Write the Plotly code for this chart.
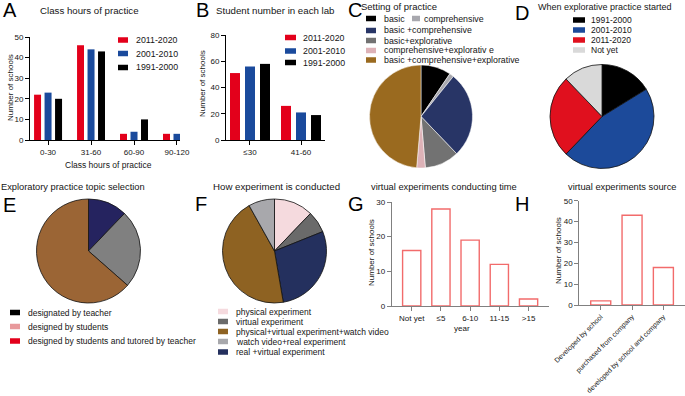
import plotly.graph_objects as go

# ---------------- data ----------------
A_cats = ["0-30", "31-60", "60-90", "90-120"]
A_2011 = [22, 46, 3, 3]
A_2001 = [23, 44, 4, 3]
A_1991 = [20, 43, 10, 1]

B_cats = ["≤30", "41-60"]
B_2011 = [51, 26]
B_2001 = [56, 21]
B_1991 = [58, 19]

series_names = ["2011-2020", "2001-2010", "1991-2000"]

C_labels = ["basic", "comprehensive", "basic +comprehensive", "basic+explorative",
            "comprehensive+explorativ e", "basic +comprehensive+explorative"]
C_values = [7, 1, 20, 8, 2, 36]

D_labels = ["1991-2000", "2001-2010", "2011-2020", "Not yet"]
D_values = [12, 34, 19, 9]

E_labels = ["designated by teacher", "designed by students",
            "designed by students and tutored by teacher"]
E_values = [9, 18, 47]

F_labels = ["physical experiment", "virtual experiment", "real +virtual experiment",
            "physical+virtual experiment+watch video", "watch video+real experiment"]
F_values = [9, 5, 21, 33, 6]
F_legend_order = [0, 1, 3, 4, 2]

G_cats = ["Not yet", "≤5", "6-10", "11-15", ">15"]
G_values = [16, 28, 19, 12, 2]

H_cats = ["Developed by school", "purchased from company", "developed by school and company"]
H_values = [2, 43, 18]

# ---------------- styles ----------------
W, H = 685, 396
FONT = "Arial, Liberation Sans, sans-serif"
TXT = "#151515"
bar_colors = ["#e3001b", "#1a4a9c", "#000000"]
C_colors = ["#000000", "#a8a8ae", "#283566", "#727272", "#ddb2b7", "#9a6a1f"]
D_colors = ["#000000", "#1c4a9a", "#e0101e", "#d9d9d9"]
E_slice_colors = ["#25235f", "#808080", "#9b6535"]
E_legend_colors = ["#000000", "#e8999c", "#e3001b"]
F_colors = ["#f5dade", "#6a6a6a", "#24305e", "#8e6222", "#a8a8ac"]
outline_red = "#f26b6b"


def fx(x):
    return x / W


def fy(y):
    return 1 - y / H


fig = go.Figure()

# ---------------- A bars ----------------
A_w = 7 / 43
A_pitch = 10.5 / 43
for i, (vals, name) in enumerate(zip([A_2011, A_2001, A_1991], series_names)):
    fig.add_trace(go.Bar(x=A_cats, y=vals, name=name, marker=dict(color=bar_colors[i], line=dict(width=0)),
                         width=A_w, offset=(i - 1) * A_pitch - A_w / 2,
                         xaxis="x", yaxis="y", showlegend=False))

# ---------------- B bars ----------------
B_w = 10 / 51
B_pitch = 15 / 51
for i, (vals, name) in enumerate(zip([B_2011, B_2001, B_1991], series_names)):
    fig.add_trace(go.Bar(x=B_cats, y=vals, name=name, marker=dict(color=bar_colors[i], line=dict(width=0)),
                         width=B_w, offset=(i - 1) * B_pitch - B_w / 2,
                         xaxis="x2", yaxis="y2", showlegend=False))

# ---------------- G bars ----------------
G_w = 18.3 / 29.3
fig.add_trace(go.Bar(x=G_cats, y=G_values, marker=dict(color="white", line=dict(color=outline_red, width=1.4)),
                     width=G_w, offset=-G_w / 2, xaxis="x3", yaxis="y3", showlegend=False))

# ---------------- H bars ----------------
H_w = 20 / 31.3
fig.add_trace(go.Bar(x=H_cats, y=H_values, marker=dict(color="white", line=dict(color=outline_red, width=1.4)),
                     width=H_w, offset=-H_w / 2, xaxis="x4", yaxis="y4", showlegend=False))


# ---------------- pies ----------------
def pie_domain(cx, cy, r):
    return dict(x=[fx(cx - r), fx(cx + r)], y=[fy(cy + r), fy(cy - r)])


def add_pie(labels, values, colors, cx, cy, r, line_color, line_w):
    fig.add_trace(go.Pie(labels=labels, values=values, sort=False, direction="clockwise", rotation=0,
                         marker=dict(colors=colors, line=dict(color=line_color, width=line_w)),
                         textinfo="none", showlegend=False, domain=pie_domain(cx, cy, r)))


add_pie(C_labels, C_values, C_colors, 421, 116.5, 51.5, "#ffffff", 0.5)
add_pie(D_labels, D_values, D_colors, 602, 116.5, 52, "#111111", 0.8)
add_pie(E_labels, E_values, E_slice_colors, 88.5, 251, 52, "#111111", 0.8)
add_pie(F_labels, F_values, F_colors, 274.5, 251, 52, "#111111", 0.8)

# ---------------- axes ----------------
tickfont = dict(family=FONT, size=8, color=TXT)


def xax(x0, x1, rng, anchor, color="#000"):
    return dict(domain=[fx(x0), fx(x1)], range=rng, anchor=anchor, type="category",
                showline=True, linecolor=color, linewidth=1, ticks="outside", ticklen=4,
                tickcolor=color, tickwidth=1, showgrid=False, zeroline=False, automargin=False,
                tickfont=tickfont, fixedrange=True)


def yax(y0, y1, rng, dtick, anchor, color="#000"):
    return dict(domain=[fy(y0), fy(y1)], range=rng, anchor=anchor, showline=True, linecolor=color,
                linewidth=1, ticks="outside", ticklen=4, tickcolor=color, tickwidth=1, showgrid=False,
                zeroline=False, dtick=dtick, tickfont=tickfont, fixedrange=True, automargin=False)


xa = xax(30, 180, [-0.42, 3.07], "y")
ya = yax(140, 37, [0, 50], 10, "x")
xb = xax(226, 325, [-0.47, 1.47], "y2")
yb = yax(140, 35, [0, 80], 20, "x2")
xg = xax(391.7, 549, [-0.685, 4.70], "y3", "#808080")
yg = yax(306, 202, [0, 30], 10, "x3", "#808080")
xh = xax(579.3, 685, [-0.684, 2.69], "y4", "#808080")
xh["tickangle"] = -45
xh["tickfont"] = dict(family=FONT, size=7, color=TXT)
yh = yax(305, 200.7, [0, 50], 10, "x4", "#808080")

fig.update_layout(
    template="none",
    width=W, height=H, autosize=False,
    margin=dict(l=0, r=0, t=0, b=0, pad=0),
    paper_bgcolor="white", plot_bgcolor="rgba(0,0,0,0)",
    barmode="overlay", showlegend=False, hovermode=False,
    font=dict(family=FONT, color=TXT),
    xaxis=xa, yaxis=ya, xaxis2=xb, yaxis2=yb, xaxis3=xg, yaxis3=yg, xaxis4=xh, yaxis4=yh,
)

annotations = []
shapes = []


def text(t, x, y, size, anchor="left", angle=0, color=TXT):
    annotations.append(dict(text=t, x=fx(x), y=fy(y), xref="paper", yref="paper",
                            xanchor=anchor, yanchor="middle", showarrow=False, textangle=angle,
                            borderpad=0, font=dict(family=FONT, size=size, color=color)))


def legend(labels, colors, x_sw, x_txt, ys, size, sw_w=10, sw_h=5.5):
    for lab, col, y in zip(labels, colors, ys):
        shapes.append(dict(type="rect", xref="paper", yref="paper",
                           x0=fx(x_sw), x1=fx(x_sw + sw_w), y0=fy(y + sw_h / 2), y1=fy(y - sw_h / 2),
                           fillcolor=col, line=dict(width=0)))
        text(lab, x_txt, y, size)


# panel letters
for letter, x, y in [("A", 2, 10), ("B", 195, 10), ("C", 347, 10), ("D", 514, 12.5),
                     ("E", 2, 205), ("F", 194, 204), ("G", 347, 204), ("H", 514, 204)]:
    text(letter, x, y, 20, color="#000")

# panel titles
text("Class hours of practice", 39, 10.5, 9.7)
text("Student number in each lab", 215, 10.5, 9.7)
text("Setting of practice", 360, 6.5, 9.5)
text("When explorative practice started", 537, 6.5, 9)
text("Exploratory practice topic selection", 0, 186.5, 9.3)
text("How experiment is conducted", 212, 186.5, 9.7)
text("virtual experiments conducting time", 370, 186.5, 9.3)
text("virtual experiments source", 567, 186.5, 9.3)

# axis titles
text("Class hours of practice", 108.5, 165, 8.5, anchor="center")
text("Number of schools", 10, 88, 8, anchor="center", angle=-90)
text("Number of schools", 202, 84, 8, anchor="center", angle=-90)
text("Number of schools", 372, 253, 8, anchor="center", angle=-90)
text("Number of schools", 558, 251, 8, anchor="center", angle=-90)
text("year", 461.5, 328, 8, anchor="center")

# legends
legend(series_names, bar_colors, 118, 135, [40, 53.5, 67.5], 8.8)
legend(series_names, bar_colors, 285, 302, [37.5, 51, 62.5], 8.8, sw_w=11)
# C legend (first row holds two entries)
legend(C_labels[:1], C_colors[:1], 366, 383, [18.5], 8.8)
legend(C_labels[1:2], C_colors[1:2], 412, 423, [18.5], 8.8, sw_w=8)
legend(C_labels[2:], C_colors[2:], 366, 383, [30.5, 40.5, 50.5, 60], 8.8)
legend(D_labels, D_colors, 573, 590, [20, 30, 40, 50], 8.5, sw_w=12)
legend(E_labels, E_legend_colors, 10, 27, [312.5, 326.5, 341], 8.5)
legend([F_labels[i] for i in F_legend_order], [F_colors[i] for i in F_legend_order],
       218, 235, [311.5, 321.5, 331.5, 341.5, 352], 8.5)

fig.update_layout(annotations=annotations, shapes=shapes)
fig.write_html("out.html", config={"displayModeBar": False},
               post_script="document.body.style.margin='0px';document.body.style.padding='0px';")
